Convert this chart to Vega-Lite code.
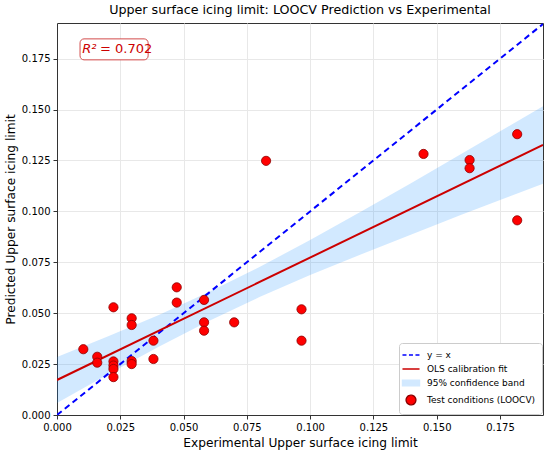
{
  "$schema": "https://vega.github.io/schema/vega-lite/v6.json",
  "width": 486,
  "height": 392,
  "autosize": {"type": "none"},
  "padding": {"left": 57, "top": 23, "right": 7, "bottom": 42},
  "title": {"text": "Upper surface icing limit: LOOCV Prediction vs Experimental", "fontSize": 12.7, "fontWeight": "normal", "font": "DejaVu Sans", "offset": 6, "color": "black"},
  "config": {
    "font": "DejaVu Sans",
    "view": {"stroke": "#333", "strokeWidth": 1},
    "axis": {"domainColor": "#333", "tickColor": "#333", "tickSize": 4, "labelColor": "black", "titleColor": "black", "labelFontSize": 10, "titleFontSize": 12.2, "titleFontWeight": "normal", "gridColor": "#e8e8e8", "labelPadding": 3, "labelFlush": false},
    "legend": {"orient": "bottom-right", "offset": 1, "padding": 6, "rowPadding": 3, "strokeColor": "#cccccc", "fillColor": "white", "cornerRadius": 3, "labelFontSize": 9, "labelColor": "black", "symbolSize": 95, "symbolStrokeWidth": 1.4, "symbolOpacity": 1, "labelOffset": 10}
  },
  "datasets": {
    "pts": [
      {"exp": 0.0104, "pred": 0.0323},
      {"exp": 0.0159, "pred": 0.0286},
      {"exp": 0.0159, "pred": 0.0257},
      {"exp": 0.0223, "pred": 0.0529},
      {"exp": 0.0223, "pred": 0.0263},
      {"exp": 0.0223, "pred": 0.0243},
      {"exp": 0.0223, "pred": 0.0226},
      {"exp": 0.0223, "pred": 0.0186},
      {"exp": 0.0295, "pred": 0.0475},
      {"exp": 0.0295, "pred": 0.0442},
      {"exp": 0.0295, "pred": 0.0265},
      {"exp": 0.0295, "pred": 0.0250},
      {"exp": 0.0381, "pred": 0.0365},
      {"exp": 0.0381, "pred": 0.0275},
      {"exp": 0.0473, "pred": 0.0627},
      {"exp": 0.0473, "pred": 0.0552},
      {"exp": 0.0581, "pred": 0.0565},
      {"exp": 0.0581, "pred": 0.0455},
      {"exp": 0.0581, "pred": 0.0414},
      {"exp": 0.0700, "pred": 0.0455},
      {"exp": 0.0826, "pred": 0.1248},
      {"exp": 0.0966, "pred": 0.0519},
      {"exp": 0.0966, "pred": 0.0365},
      {"exp": 0.1448, "pred": 0.1282},
      {"exp": 0.1630, "pred": 0.1252},
      {"exp": 0.1630, "pred": 0.1212},
      {"exp": 0.1818, "pred": 0.1379},
      {"exp": 0.1818, "pred": 0.0956}
    ],
    "band": [
      {"exp": 0.0, "lo": 0.0059, "hi": 0.0285},
      {"exp": 0.02, "lo": 0.0199, "hi": 0.0385},
      {"exp": 0.04, "lo": 0.0334, "hi": 0.0490},
      {"exp": 0.06, "lo": 0.0462, "hi": 0.0604},
      {"exp": 0.08, "lo": 0.0579, "hi": 0.0727},
      {"exp": 0.10, "lo": 0.0687, "hi": 0.0859},
      {"exp": 0.12, "lo": 0.0788, "hi": 0.0998},
      {"exp": 0.14, "lo": 0.0887, "hi": 0.1139},
      {"exp": 0.16, "lo": 0.0984, "hi": 0.1284},
      {"exp": 0.18, "lo": 0.1079, "hi": 0.1429},
      {"exp": 0.192, "lo": 0.1136, "hi": 0.1516}
    ],
    "fit": [
      {"exp": 0.0, "pred": 0.0172},
      {"exp": 0.192, "pred": 0.1326}
    ],
    "ident": [
      {"exp": 0.0, "pred": 0.0},
      {"exp": 0.192, "pred": 0.192}
    ],
    "legend": [
      {"series": "y = x"},
      {"series": "OLS calibration fit"},
      {"series": "95% confidence band"},
      {"series": "Test conditions (LOOCV)"}
    ]
  },
  "encoding": {
    "x": {"type": "quantitative", "scale": {"domain": [0, 0.192], "nice": false}, "axis": {"title": "Experimental Upper surface icing limit", "values": [0, 0.025, 0.05, 0.075, 0.1, 0.125, 0.15, 0.175], "format": ".3f"}},
    "y": {"type": "quantitative", "scale": {"domain": [0, 0.1925], "nice": false}, "axis": {"title": "Predicted Upper surface icing limit", "values": [0, 0.025, 0.05, 0.075, 0.1, 0.125, 0.15, 0.175], "format": ".3f"}}
  },
  "layer": [
    {
      "data": {"name": "band"},
      "mark": {"type": "area", "color": "#1e90ff", "opacity": 0.2, "clip": true},
      "encoding": {
        "x": {"field": "exp", "type": "quantitative"},
        "y": {"field": "lo", "type": "quantitative"},
        "y2": {"field": "hi"}
      }
    },
    {
      "data": {"name": "ident"},
      "mark": {"type": "line", "color": "#0000ff", "strokeWidth": 2, "strokeDash": [6, 4], "clip": true},
      "encoding": {
        "x": {"field": "exp", "type": "quantitative"},
        "y": {"field": "pred", "type": "quantitative"}
      }
    },
    {
      "data": {"name": "fit"},
      "mark": {"type": "line", "color": "#cc0000", "strokeWidth": 2, "clip": true},
      "encoding": {
        "x": {"field": "exp", "type": "quantitative"},
        "y": {"field": "pred", "type": "quantitative"}
      }
    },
    {
      "data": {"name": "pts"},
      "mark": {"type": "circle", "size": 85, "opacity": 1, "fill": "#ff0000", "stroke": "#8b0000", "strokeWidth": 0.8},
      "encoding": {
        "x": {"field": "exp", "type": "quantitative"},
        "y": {"field": "pred", "type": "quantitative"}
      }
    },
    {
      "data": {"name": "legend"},
      "mark": {"type": "point", "filled": true, "clip": true},
      "encoding": {
        "x": {"datum": -1, "type": "quantitative"},
        "y": {"datum": -1, "type": "quantitative"},
        "shape": {
          "field": "series", "type": "nominal", "legend": {"title": null},
          "scale": {"domain": ["y = x", "OLS calibration fit", "95% confidence band", "Test conditions (LOOCV)"], "range": ["M-1.75,0H1.75", "M-1.75,0H1.75", "M-1.75,-0.6H1.75V0.6H-1.75Z", "circle"]}
        },
        "fill": {
          "field": "series", "type": "nominal", "legend": {"title": null},
          "scale": {"domain": ["y = x", "OLS calibration fit", "95% confidence band", "Test conditions (LOOCV)"], "range": ["transparent", "transparent", "#d2e9ff", "#ff0000"]}
        },
        "stroke": {
          "field": "series", "type": "nominal", "legend": {"title": null},
          "scale": {"domain": ["y = x", "OLS calibration fit", "95% confidence band", "Test conditions (LOOCV)"], "range": ["#0000ff", "#cc0000", "#d2e9ff", "#8b0000"]}
        },
        "strokeDash": {
          "field": "series", "type": "nominal", "legend": {"title": null},
          "scale": {"domain": ["y = x", "OLS calibration fit", "95% confidence band", "Test conditions (LOOCV)"], "range": [[4, 2.5], [1, 0], [1, 0], [1, 0]]}
        }
      }
    },
    {
      "data": {"values": [{}]},
      "mark": {"type": "rect", "fill": "white", "stroke": "#d24a4a", "strokeWidth": 1, "cornerRadius": 4},
      "encoding": {
        "x": {"datum": 0.0091, "type": "quantitative"},
        "x2": {"datum": 0.036},
        "y": {"datum": 0.1847, "type": "quantitative"},
        "y2": {"datum": 0.1744}
      }
    },
    {
      "data": {"values": [{}]},
      "mark": {"type": "text", "text": "R²", "color": "#cc0000", "fontSize": 13, "fontStyle": "italic", "align": "left", "baseline": "middle"},
      "encoding": {
        "x": {"datum": 0.0100, "type": "quantitative"},
        "y": {"datum": 0.1796, "type": "quantitative"}
      }
    },
    {
      "data": {"values": [{}]},
      "mark": {"type": "text", "text": "= 0.702", "color": "#cc0000", "fontSize": 13, "align": "left", "baseline": "middle"},
      "encoding": {
        "x": {"datum": 0.0170, "type": "quantitative"},
        "y": {"datum": 0.1796, "type": "quantitative"}
      }
    }
  ]
}
